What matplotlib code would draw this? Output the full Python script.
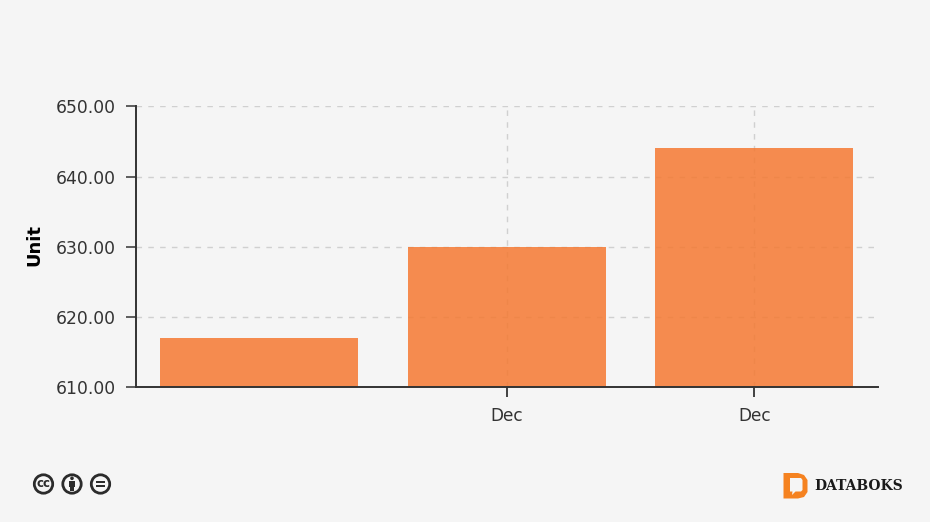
import matplotlib
matplotlib.use("Agg")
import matplotlib.pyplot as plt
from matplotlib.patches import Circle, Polygon, Rectangle

# values
positions = [0, 1, 2]
values = [617.0, 630.0, 644.0]
xtick_pos = [1, 2]
xtick_labels = ["Dec", "Dec"]
yticks = [610, 620, 630, 640, 650]

bg = "#f5f5f5"
dark = "#333333"

fig = plt.figure(figsize=(9.3, 5.22), dpi=100, facecolor=bg)
W, H = 930.0, 522.0
ax = fig.add_axes([135.5/W, 1-386.9/H, (878-135.5)/W, (386.9-106.4)/H], facecolor=bg)

# grid shows faintly through the see-through bars
ax.grid(True, color="#d0d0d0", linestyle=(0, (4, 4.5)), linewidth=1, zorder=1)
ax.bar(positions, values, width=0.8, color="#f57932", alpha=0.85, edgecolor="none", zorder=2)
ax.set_xlim(-0.5, 2.5)
ax.set_ylim(610, 650)

ax.set_xticks(xtick_pos)
ax.set_xticklabels(xtick_labels, fontsize=12.2, family="DejaVu Sans", color=dark)
ax.set_yticks(yticks)
ax.set_yticklabels(["%.2f" % v for v in yticks], fontsize=12.3, color=dark)
ax.tick_params(axis="x", length=7, width=1.3, color=dark, pad=7.5)
ax.tick_params(axis="y", length=7, width=1.1, color=dark, pad=7)
for s in ["top", "right"]:
    ax.spines[s].set_visible(False)
for s in ["left", "bottom"]:
    ax.spines[s].set_color(dark)
    ax.spines[s].set_linewidth(1.4)
ax.set_ylabel("Unit", fontsize=13, fontweight="bold", color="black")
ax.yaxis.set_label_coords((43 - 135.5)/742.5, 0.505)

# overlay in pixel coordinates for the footer marks
ov = fig.add_axes([0, 0, 1, 1], facecolor="none")
ov.set_xlim(0, W)
ov.set_ylim(H, 0)
ov.axis("off")

for cx in [43.5, 72, 100.5]:
    ov.add_patch(Circle((cx, 484), 9.2, fc="none", ec="#2b2b2b", lw=2))
ov.text(43.5, 483.5, "cc", fontsize=8.5, fontweight="bold", ha="center", va="center", color="#2b2b2b")
ov.add_patch(Circle((72, 478.3), 1.8, fc="#2b2b2b", ec="none"))
ov.add_patch(Rectangle((68.8, 481), 6.4, 5.5, fc="#2b2b2b", ec="none"))
ov.add_patch(Rectangle((70.2, 486), 3.6, 5, fc="#2b2b2b", ec="none"))
ov.add_patch(Rectangle((96, 481), 9, 2, fc="#2b2b2b", ec="none"))
ov.add_patch(Rectangle((96, 485.2), 9, 2, fc="#2b2b2b", ec="none"))

# logo
ov.add_patch(Polygon([(783.5, 473), (798, 473), (804, 475), (807.5, 480), (807.5, 492),
                      (804, 497), (798, 498.5), (783.5, 498.5)],
                     closed=True, fc="#f58220", ec="none"))
ov.add_patch(Polygon([(790, 478), (801, 478), (802.5, 480), (802.5, 490), (801, 491.5),
                      (795.5, 491.5), (792, 495), (792.5, 491.5), (790, 491.5)],
                     closed=True, fc=bg, ec="none"))
ov.text(814.5, 486.5, "DATABOKS", fontsize=10, fontweight="bold", family="DejaVu Serif",
        ha="left", va="center", color="#1a1a1a")

fig.savefig("out.png", dpi=100, facecolor=bg)
